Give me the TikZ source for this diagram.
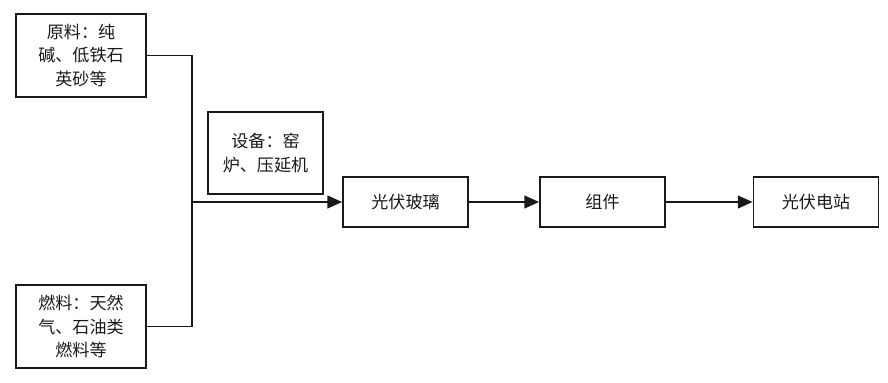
\documentclass[tikz,border=0pt]{standalone}
\usepackage{fontspec}
\setmainfont{Noto Sans CJK SC}
\usetikzlibrary{arrows.meta}
\tikzset{
    box/.style={draw=black!90, line width=1.3pt, inner sep=0pt, align=center,
        text=black!90, font=\fontsize{12.8}{17.6}\selectfont},
    flow/.style={draw=black!90, line width=1.3pt},
    arr/.style={flow, -{Triangle[length=11pt, width=9.5pt]}}
}
\begin{document}
\begin{tikzpicture}[x=0.75pt, y=-0.75pt]
    \useasboundingbox (0,0) rectangle (888,382);
    % 输入
    \node[box, minimum width=97.5pt, minimum height=62.25pt] (raw) at (81, 55.5) {原料：纯\\碱、低铁石\\英砂等};
    \node[box, minimum width=97.5pt, minimum height=62.25pt] (fuel) at (81, 326.5) {燃料：天然\\气、石油类\\燃料等};
    \node[box, minimum width=86.25pt, minimum height=61.5pt] (equip) at (265.5, 153) {设备：窑\\炉、压延机};
    % 产业链
    \node[box, minimum width=93.75pt, minimum height=37.5pt] (glass) at (405.5, 202) {光伏玻璃};
    \node[box, minimum width=93.75pt, minimum height=37.5pt] (module) at (602.5, 202) {组件};
    \node[box, minimum width=93.75pt, minimum height=37.5pt] (station) at (816, 202) {光伏电站};
    % 连线
    \coordinate (jn) at (192, 202);
    \draw[flow] (raw.east) -| (jn);
    \draw[flow] (fuel.east) -| (jn);
    \draw[arr] (jn) -- (glass.west);
    \draw[arr] (glass) -- (module);
    \draw[arr] (module) -- (station);
\end{tikzpicture}
\end{document}
